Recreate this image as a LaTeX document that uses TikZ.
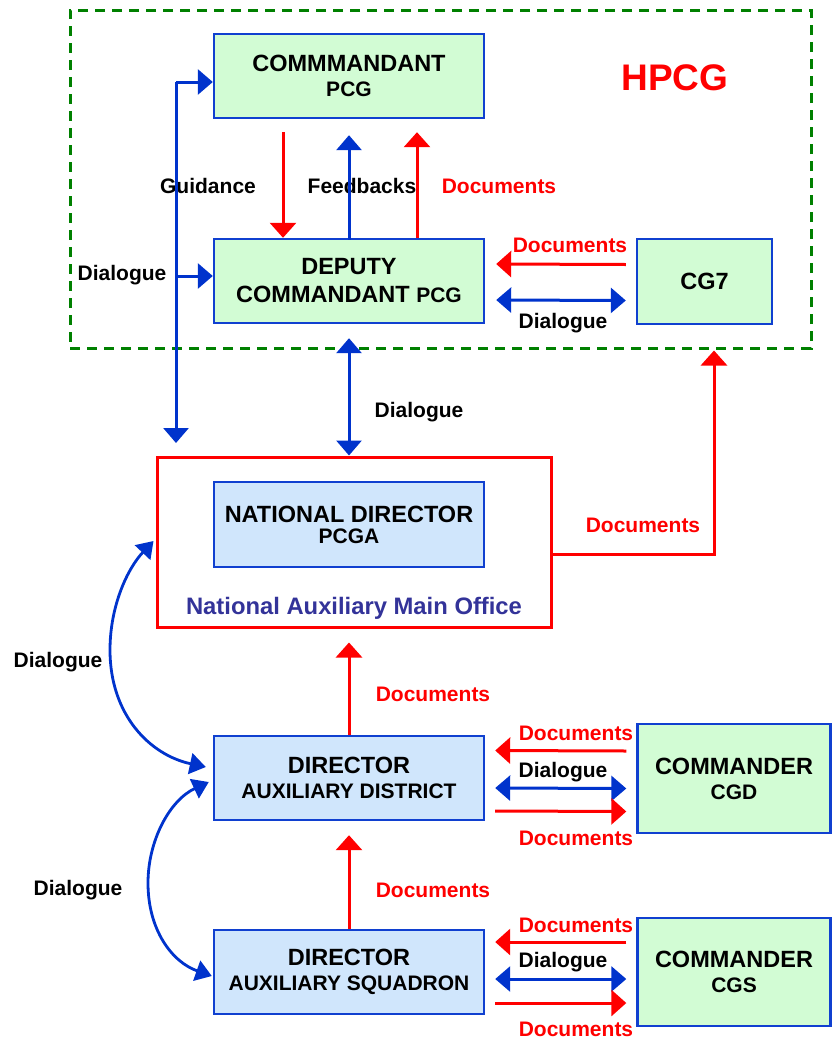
\documentclass[tikz,border=0pt]{standalone}
\usepackage{fontspec}
\setmainfont{Liberation Sans}
\usetikzlibrary{arrows.meta,calc}
\definecolor{boxblue}{HTML}{1040D0}
\definecolor{arrblue}{HTML}{0033CC}
\definecolor{lgreen}{HTML}{D2FCD4}
\definecolor{lblue}{HTML}{D0E6FC}
\definecolor{hgreen}{HTML}{008000}
\definecolor{offblue}{HTML}{333399}
\newcommand{\tfont}{\fontsize{23.5}{25}\selectfont\bfseries}
\newcommand{\sfontx}{\fontsize{21}{25}\selectfont\bfseries}
\newcommand{\lfont}{\fontsize{21}{25}\selectfont\bfseries}
\begin{document}
\begin{tikzpicture}[x=1pt,y=-1pt,
  gbox/.style={draw=boxblue, line width=2.4pt, fill=lgreen, align=center, inner sep=0pt, font=\tfont},
  bbox/.style={draw=boxblue, line width=2.4pt, fill=lblue, align=center, inner sep=0pt, font=\tfont},
  lbl/.style={font=\lfont, inner sep=0pt, anchor=base},
  rlbl/.style={lbl, text=red},
  rarrow/.style={draw=red, line width=3pt, -{Triangle[length=15pt,width=26pt]}},
  barrow/.style={draw=arrblue, line width=3pt, -{Triangle[length=15pt,width=25pt]}},
  bdarrow/.style={draw=arrblue, line width=3pt, {Triangle[length=15pt,width=25pt]}-{Triangle[length=15pt,width=25pt]}},
  bcurve/.style={draw=arrblue, line width=2.8pt, {Triangle[length=16pt,width=21pt]}-{Triangle[length=16pt,width=21pt]}}
]
\useasboundingbox (0,0) rectangle (832,1039);

% HPCG frame
\node[draw=hgreen, line width=3pt, dash pattern=on 10pt off 7pt, minimum width=741pt, minimum height=338pt, inner sep=0pt] (frame) at (440.5,179) {};
\node[font=\fontsize{37}{40}\selectfont\bfseries, text=red, inner sep=0pt] (hpcg) at (675,78) {HPCG};

% boxes
\node[gbox, minimum width=270pt, minimum height=84pt] (cmd) at (349,76) {COMMMANDANT\\{\sfontx PCG}};
\node[gbox, minimum width=270pt, minimum height=84pt] (dep) at (349,281) {DEPUTY\\[3pt]COMMANDANT {\sfontx PCG}};
\node[gbox, minimum width=135pt, minimum height=85pt] (cg7) at (704.5,281.5) {CG7};

\node[draw=red, line width=3pt, minimum width=394pt, minimum height=170pt, inner sep=0pt] (office) at (354,542) {};
\node[bbox, minimum width=270pt, minimum height=85pt] (natl) at (349,524.5) {NATIONAL DIRECTOR\\[-4pt]{\sfontx PCGA}};
\node[font=\fontsize{23.8}{25}\selectfont\bfseries, text=offblue, inner sep=0pt, anchor=base] (offt) at (354,614) {National Auxiliary Main Office};

\node[bbox, minimum width=270pt, minimum height=84pt] (dist) at (349,778) {DIRECTOR\\{\sfontx AUXILIARY DISTRICT}};
\node[bbox, minimum width=270pt, minimum height=84pt] (squad) at (349,972) {DIRECTOR\\{\sfontx AUXILIARY SQUADRON}};
\node[gbox, minimum width=193pt, minimum height=109pt] (cgd) at (734,778.5) {COMMANDER\\{\sfontx CGD}};
\node[gbox, minimum width=193pt, minimum height=108pt] (cgs) at (734,972) {COMMANDER\\{\sfontx CGS}};

% labels
\node[lbl] (guid) at (208,193.5) {Guidance};
\node[lbl] (feed) at (362,193.5) {Feedbacks};
\node[rlbl] (docA) at (499,193.5) {Documents};
\node[lbl] (dlgL) at (122,280.5) {Dialogue};
\node[rlbl] (docB) at (570,252.5) {Documents};
\node[lbl] (dlgB) at (563,328.5) {Dialogue};
\node[lbl] (dlgV) at (419,417.5) {Dialogue};
\node[rlbl] (docC) at (643,532.5) {Documents};
\node[rlbl] (docD) at (433,701.5) {Documents};
\node[rlbl] (docE) at (433,897.5) {Documents};
\node[lbl] (dlgC1) at (58,667.5) {Dialogue};
\node[lbl] (dlgC2) at (78,895.5) {Dialogue};
\node[rlbl] (docF) at (576,740.5) {Documents};
\node[lbl] (dlgF) at (563,777.5) {Dialogue};
\node[rlbl] (docG) at (576,845.5) {Documents};
\node[rlbl] (docH) at (576,932.5) {Documents};
\node[lbl] (dlgH) at (563,967.5) {Dialogue};
\node[rlbl] (docI) at (576,1036) {Documents};

% commandant <-> deputy
\draw[rarrow] ([xshift=-66pt,yshift=-13pt]cmd.south) -- ([xshift=-66pt]dep.north);
\draw[barrow] ([yshift=-2pt]dep.north) -- ([yshift=-16pt]cmd.south);
\draw[rarrow] ([xshift=68pt]dep.north) -- ([xshift=68pt,yshift=-13pt]cmd.south);

% left dialogue line
\coordinate (ltop) at (176,82);
\coordinate (lmid) at (176,276);
\coordinate (lbot) at (176,443);
\draw[barrow] (ltop) -- (ltop -| cmd.west);
\draw[barrow] (lmid) -- (lmid -| dep.west);
\draw[barrow] (ltop) -- (lbot);

% deputy <-> CG7
\draw[rarrow] ([xshift=-10pt,yshift=17pt]cg7.west) -- ([xshift=11pt,yshift=17pt]dep.east);
\draw[bdarrow] ([xshift=11pt,yshift=-19pt]dep.east) -- ([xshift=-10pt,yshift=-19pt]cg7.west);

% deputy <-> office
\coordinate (vtop) at ([yshift=-14pt]dep.south);
\draw[bdarrow] (vtop) -- (vtop |- office.north);

% office -> HPCG
\draw[rarrow] ([yshift=-12pt]office.east) -| ([xshift=273.5pt,yshift=-1pt]frame.south);

% directors -> up
\coordinate (otip) at ([yshift=-14pt]office.south);
\draw[rarrow] (dist.north) -- (dist.north |- otip);
\draw[rarrow] (squad.north) -- ([yshift=-14pt]dist.south);

% curved dialogues
\draw[bcurve] ([xshift=-2pt,yshift=1pt]office.west) .. controls (128,568) and (110,605) .. (110,650) .. controls (110,715) and (150,755) .. ([xshift=-7pt,yshift=11pt]dist.west);
\draw[bcurve] ([xshift=-4pt,yshift=-4pt]dist.west) .. controls (170,800) and (148,840) .. (148,883) .. controls (148,930) and (172,962) .. ([xshift=-1pt,yshift=-4pt]squad.west);

% district <-> CGD
\draw[rarrow] ([xshift=-10pt,yshift=27.5pt]cgd.west) -- ([xshift=10pt,yshift=27.5pt]dist.east);
\draw[bdarrow] ([xshift=10pt,yshift=-10pt]dist.east) -- ([xshift=-10pt,yshift=-10pt]cgd.west);
\draw[rarrow] ([xshift=10pt,yshift=-33pt]dist.east) -- ([xshift=-10pt,yshift=-33pt]cgd.west);

% squadron <-> CGS
\draw[rarrow] ([xshift=-10pt,yshift=30pt]cgs.west) -- ([xshift=10pt,yshift=30pt]squad.east);
\draw[bdarrow] ([xshift=10pt,yshift=-7pt]squad.east) -- ([xshift=-10pt,yshift=-7pt]cgs.west);
\draw[rarrow] ([xshift=10pt,yshift=-31pt]squad.east) -- ([xshift=-10pt,yshift=-31pt]cgs.west);
\end{tikzpicture}
\end{document}
